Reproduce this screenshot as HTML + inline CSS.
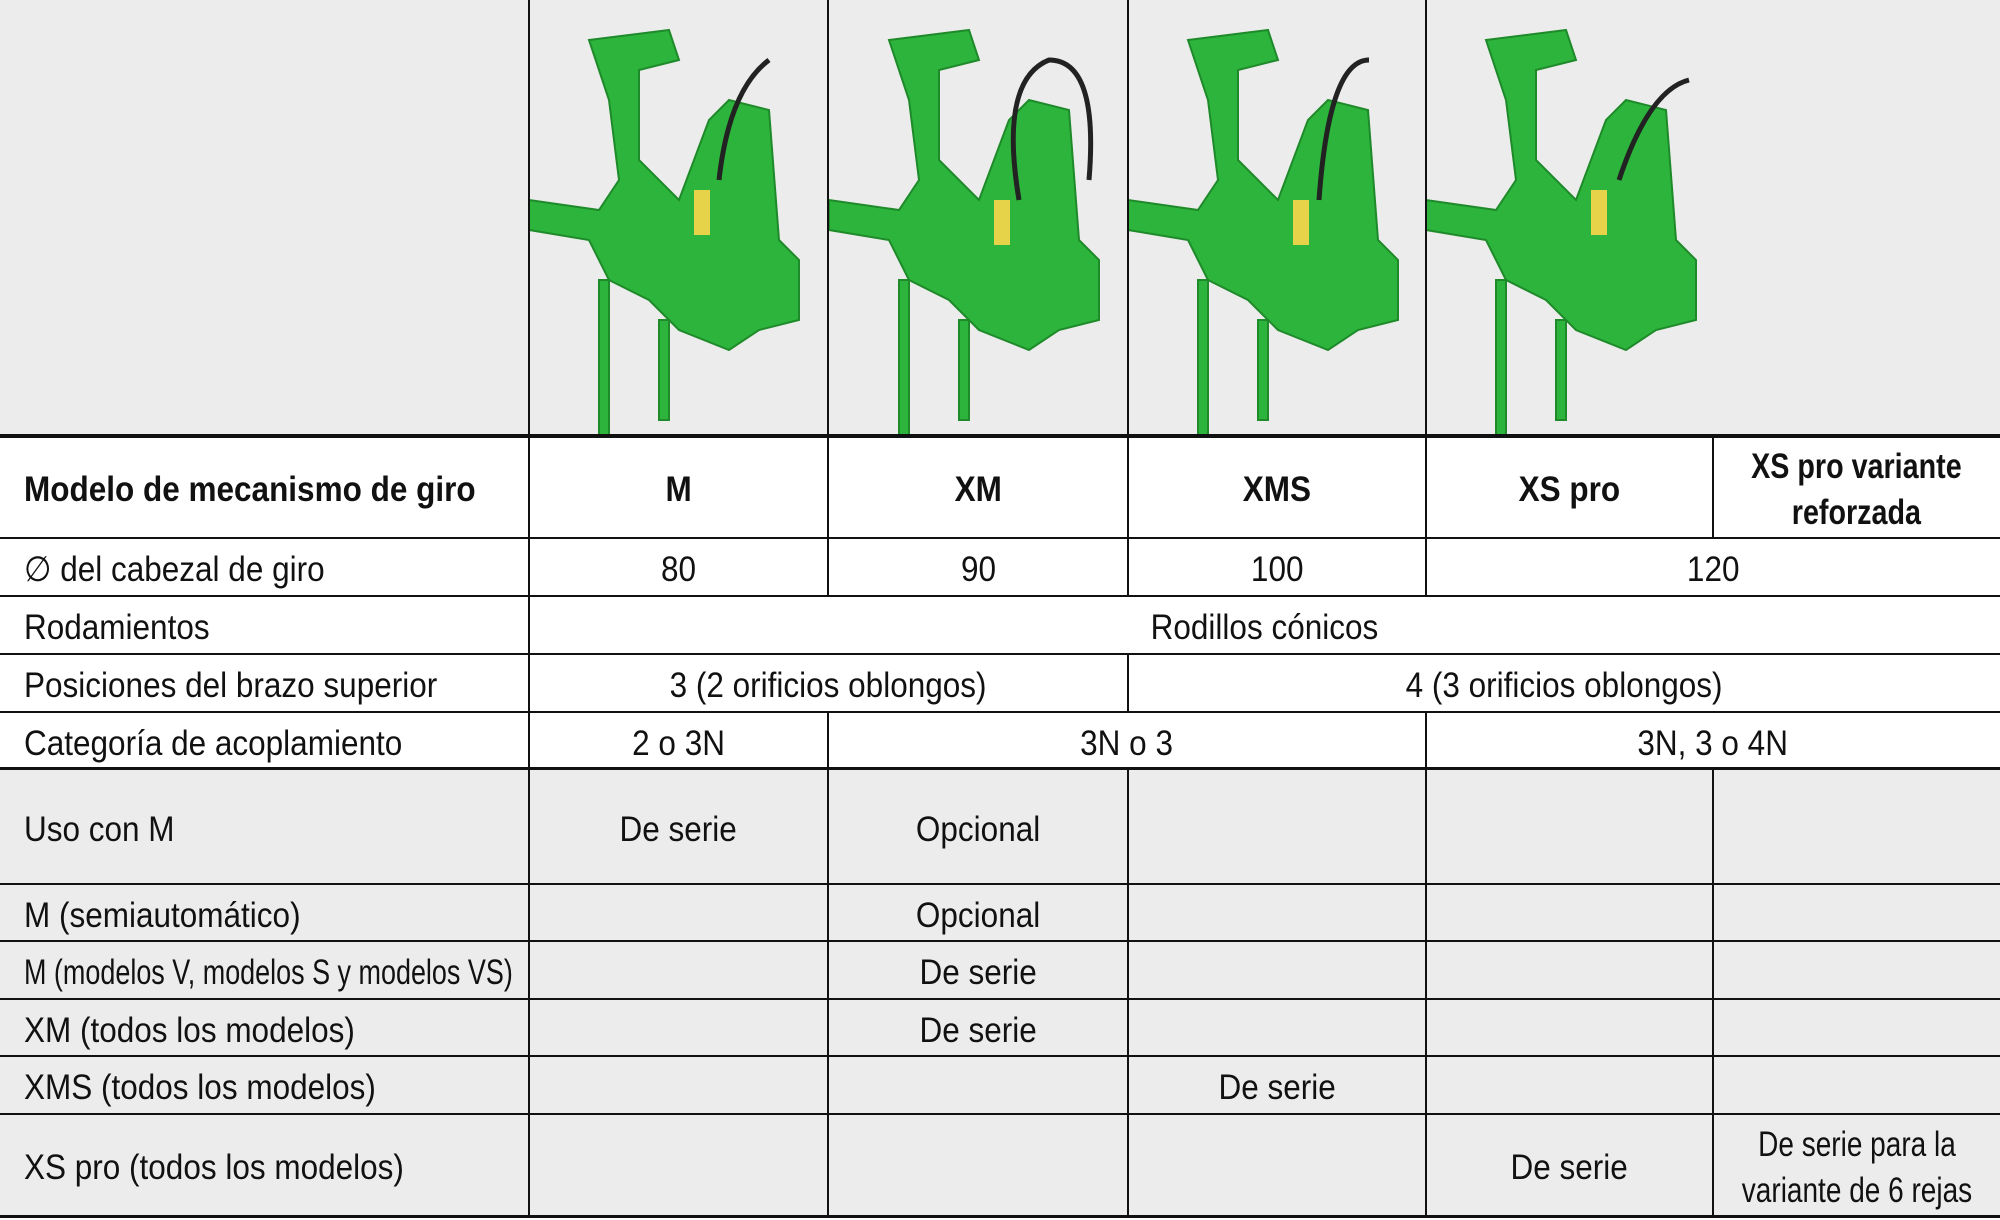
<!DOCTYPE html>
<html><head><meta charset="utf-8"><style>
body{margin:0;width:2000px;height:1220px;background:#fff;position:relative;overflow:hidden;font-family:"Liberation Sans",sans-serif;color:#111}
.bg{position:absolute;background:#ececec}
.h{position:absolute;background:#111;height:2px}
.v{position:absolute;background:#111;width:2px}
.t{position:absolute;display:flex;align-items:center;justify-content:center;text-align:center;font-size:35px;line-height:46px;white-space:nowrap;padding-top:6px;box-sizing:border-box}
.t span{display:inline-block;transform:scaleX(.9);transform-origin:center}
.l{justify-content:flex-start;padding-left:24px}
.l span{transform-origin:left center}
.b{font-weight:bold}
svg{position:absolute}
</style></head><body>
<div class="bg" style="left:0;top:0;width:2000px;height:436px"></div>
<div class="bg" style="left:0;top:769px;width:2000px;height:447px"></div>

<svg style="left:529px;top:0" width="1471" height="436" viewBox="0 0 1471 436">
<g fill="#2db43c" stroke="#1e8a2a" stroke-width="2">
<g id="m">
<path d="M60 40 L140 30 L150 60 L110 70 L110 160 L150 200 L180 120 L200 100 L240 110 L250 240 L270 260 L270 320 L230 330 L200 350 L150 330 L120 300 L80 280 L60 240 L0 230 L0 200 L70 210 L90 180 L80 100 Z"/>
<rect x="70" y="280" width="10" height="156"/>
<rect x="130" y="320" width="10" height="100"/>
</g>
<use href="#m" x="300"/>
<use href="#m" x="599"/>
<use href="#m" x="897"/>
</g>
<g fill="#e6d34a"><rect x="165" y="190" width="16" height="45"/><rect x="465" y="200" width="16" height="45"/><rect x="764" y="200" width="16" height="45"/><rect x="1062" y="190" width="16" height="45"/></g>
<g fill="none" stroke="#222" stroke-width="5"><path d="M190 180 Q200 90 240 60"/><path d="M490 200 Q470 80 520 60 Q570 60 560 180"/><path d="M790 200 Q800 60 840 60"/><path d="M1090 180 Q1120 90 1160 80"/></g>
</svg>

<div class="h" style="left:0;top:434px;width:2000px;height:4px"></div>
<div class="h" style="left:0;top:537px;width:2000px"></div>
<div class="h" style="left:0;top:595px;width:2000px"></div>
<div class="h" style="left:0;top:653px;width:2000px"></div>
<div class="h" style="left:0;top:711px;width:2000px"></div>
<div class="h" style="left:0;top:767px;width:2000px;height:3px"></div>
<div class="h" style="left:0;top:883px;width:2000px"></div>
<div class="h" style="left:0;top:940px;width:2000px"></div>
<div class="h" style="left:0;top:998px;width:2000px"></div>
<div class="h" style="left:0;top:1055px;width:2000px"></div>
<div class="h" style="left:0;top:1113px;width:2000px"></div>
<div class="h" style="left:0;top:1215px;width:2000px;height:3px"></div>

<div class="v" style="left:528px;top:0;height:1218px"></div>
<div class="v" style="left:827px;top:0;height:596px"></div>
<div class="v" style="left:1127px;top:0;height:596px"></div>
<div class="v" style="left:1425px;top:0;height:596px"></div>
<div class="v" style="left:1712px;top:436px;height:102px"></div>
<div class="v" style="left:1127px;top:654px;height:58px"></div>
<div class="v" style="left:827px;top:712px;height:58px"></div>
<div class="v" style="left:1425px;top:712px;height:58px"></div>
<div class="v" style="left:827px;top:769px;height:449px"></div>
<div class="v" style="left:1127px;top:769px;height:449px"></div>
<div class="v" style="left:1425px;top:769px;height:449px"></div>
<div class="v" style="left:1712px;top:769px;height:449px"></div>

<div class="t l b" style="left:0;top:436px;width:529px;height:102px"><span>Modelo de mecanismo de giro</span></div>
<div class="t b" style="left:529px;top:436px;width:299px;height:102px"><span>M</span></div>
<div class="t b" style="left:828px;top:436px;width:300px;height:102px"><span>XM</span></div>
<div class="t b" style="left:1128px;top:436px;width:298px;height:102px"><span>XMS</span></div>
<div class="t b" style="left:1426px;top:436px;width:287px;height:102px"><span>XS pro</span></div>
<div class="t b" style="left:1713px;top:436px;width:287px;height:102px"><span style="transform:scaleX(.82)">XS pro variante<br>reforzada</span></div>

<div class="t l" style="left:0;top:538px;width:529px;height:58px"><span>∅ del cabezal de giro</span></div>
<div class="t" style="left:529px;top:538px;width:299px;height:58px"><span>80</span></div>
<div class="t" style="left:828px;top:538px;width:300px;height:58px"><span>90</span></div>
<div class="t" style="left:1128px;top:538px;width:298px;height:58px"><span>100</span></div>
<div class="t" style="left:1426px;top:538px;width:574px;height:58px"><span>120</span></div>

<div class="t l" style="left:0;top:596px;width:529px;height:58px"><span>Rodamientos</span></div>
<div class="t" style="left:529px;top:596px;width:1471px;height:58px"><span>Rodillos cónicos</span></div>

<div class="t l" style="left:0;top:654px;width:529px;height:58px"><span>Posiciones del brazo superior</span></div>
<div class="t" style="left:529px;top:654px;width:599px;height:58px"><span>3 (2 orificios oblongos)</span></div>
<div class="t" style="left:1128px;top:654px;width:872px;height:58px"><span>4 (3 orificios oblongos)</span></div>

<div class="t l" style="left:0;top:712px;width:529px;height:58px"><span>Categoría de acoplamiento</span></div>
<div class="t" style="left:529px;top:712px;width:299px;height:58px"><span>2 o 3N</span></div>
<div class="t" style="left:828px;top:712px;width:598px;height:58px"><span>3N o 3</span></div>
<div class="t" style="left:1426px;top:712px;width:574px;height:58px"><span>3N, 3 o 4N</span></div>

<div class="t l" style="left:0;top:770px;width:529px;height:114px"><span>Uso con M</span></div>
<div class="t" style="left:529px;top:770px;width:299px;height:114px"><span>De serie</span></div>
<div class="t" style="left:828px;top:770px;width:300px;height:114px"><span>Opcional</span></div>

<div class="t l" style="left:0;top:884px;width:529px;height:57px"><span>M (semiautomático)</span></div>
<div class="t" style="left:828px;top:884px;width:300px;height:57px"><span>Opcional</span></div>

<div class="t l" style="left:0;top:941px;width:529px;height:58px"><span style="transform:scaleX(.77)">M (modelos V, modelos S y modelos VS)</span></div>
<div class="t" style="left:828px;top:941px;width:300px;height:58px"><span>De serie</span></div>

<div class="t l" style="left:0;top:999px;width:529px;height:57px"><span>XM (todos los modelos)</span></div>
<div class="t" style="left:828px;top:999px;width:300px;height:57px"><span>De serie</span></div>

<div class="t l" style="left:0;top:1056px;width:529px;height:58px"><span>XMS (todos los modelos)</span></div>
<div class="t" style="left:1128px;top:1056px;width:298px;height:58px"><span>De serie</span></div>

<div class="t l" style="left:0;top:1114px;width:529px;height:102px"><span>XS pro (todos los modelos)</span></div>
<div class="t" style="left:1426px;top:1114px;width:287px;height:102px"><span>De serie</span></div>
<div class="t" style="left:1713px;top:1114px;width:287px;height:102px"><span style="transform:scaleX(.8)">De serie para la<br>variante de 6 rejas</span></div>
</body></html>
